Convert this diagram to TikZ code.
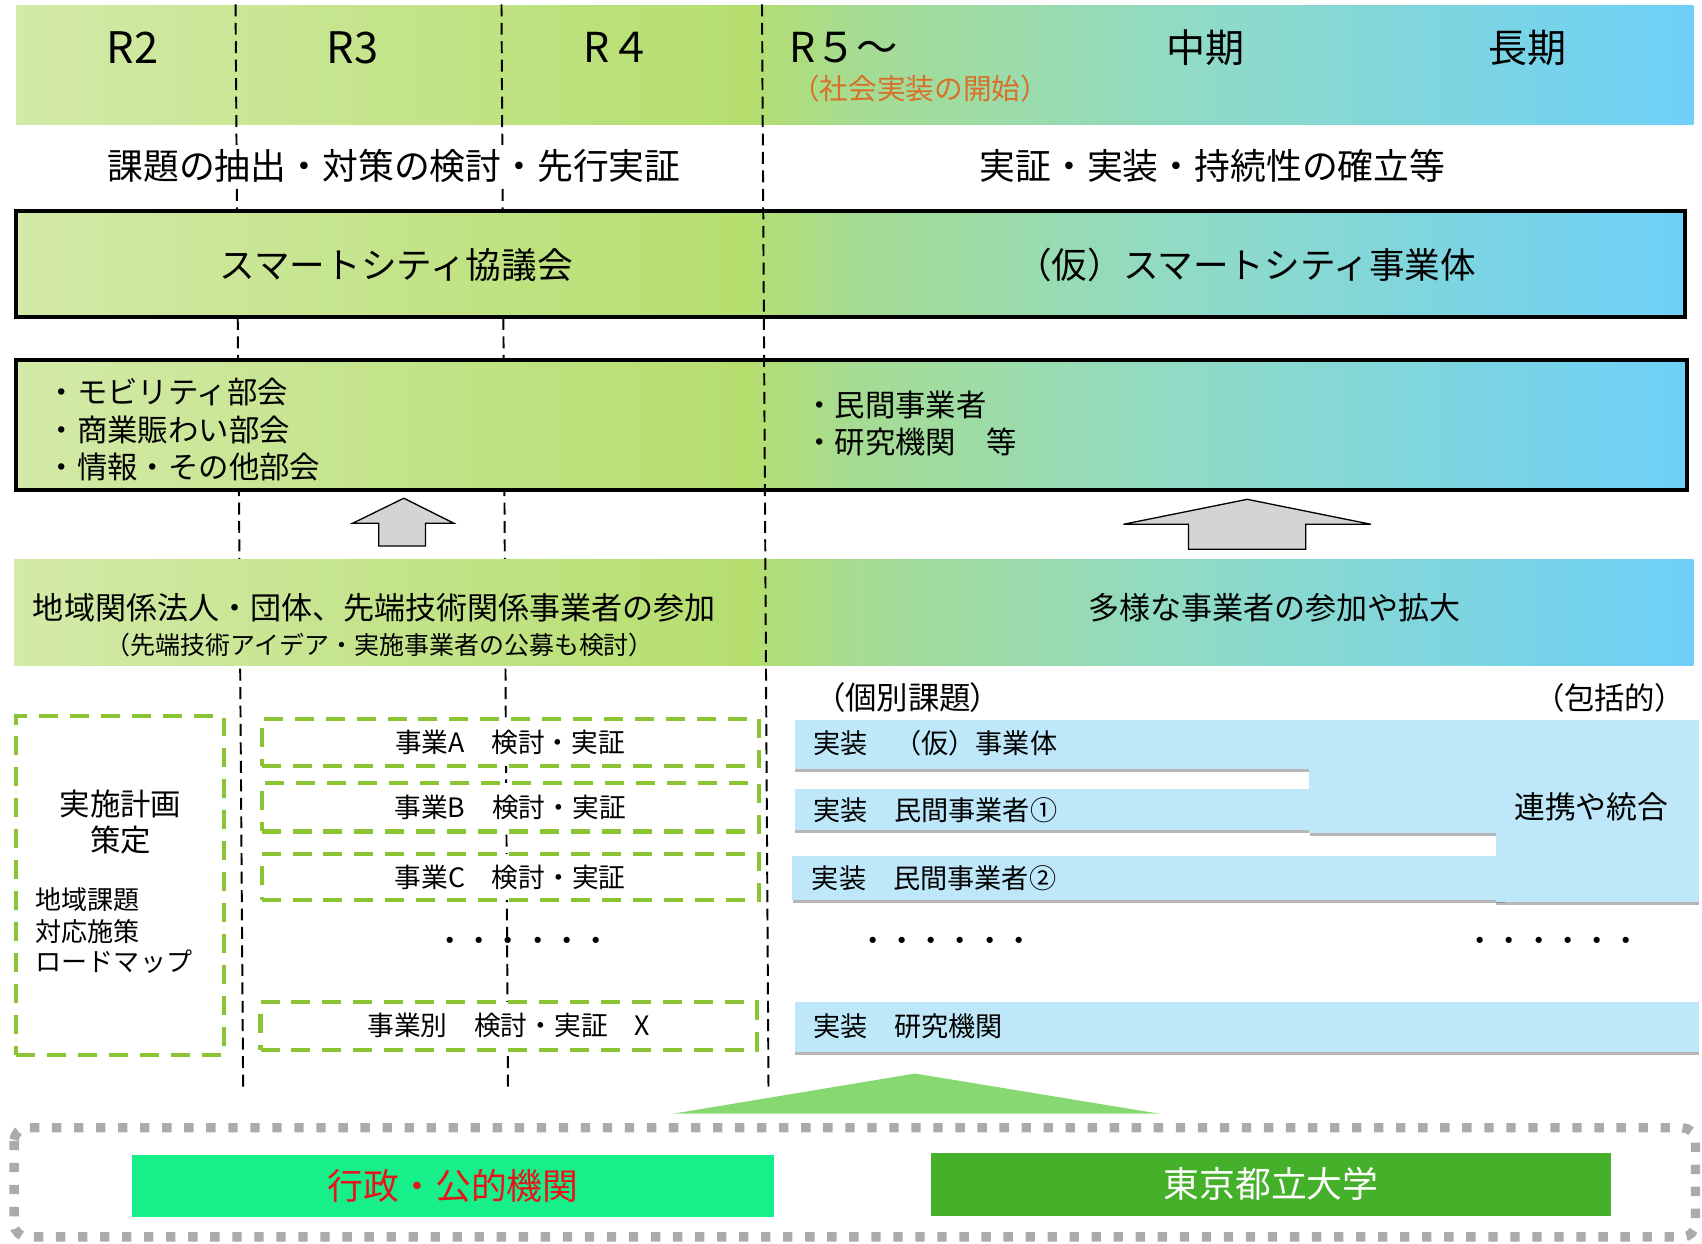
\documentclass[tikz,border=0pt]{standalone}
\usepackage{fontspec}
\setmainfont{Noto Sans CJK JP}
\newfontfamily\paltjp{Noto Sans CJK JP}[RawFeature=+palt]
\usetikzlibrary{shadows}
\definecolor{g0}{HTML}{D3EAA8}
\definecolor{g1}{HTML}{B5DE6E}
\definecolor{g2}{HTML}{A6DC92}
\definecolor{g3}{HTML}{90DBC6}
\definecolor{g4}{HTML}{6DD0F8}
\definecolor{dashgreen}{HTML}{8AC432}
\definecolor{lightblue}{HTML}{BEE8F9}
\definecolor{arrowgray}{HTML}{D4D4D4}
\definecolor{trigreen}{HTML}{88D872}
\definecolor{framegray}{HTML}{ABABAB}
\definecolor{springbox}{HTML}{17F08A}
\definecolor{univgreen}{HTML}{45B02A}
\definecolor{orangetxt}{HTML}{D8702A}
\definecolor{redtxt}{HTML}{E8141C}
\pgfdeclarehorizontalshading{bandshade}{100bp}{color(0bp)=(g0); color(25bp)=(g0); color(46.8bp)=(g1); color(50bp)=(g2); color(60bp)=(g3); color(75bp)=(g4); color(100bp)=(g4)}
\begin{document}
\begin{tikzpicture}[x=0.5pt,y=-0.5pt,
  fs/.style={font=\fontsize{#1}{#1}\selectfont},
  pfs/.style={font=\paltjp\fontsize{#1}{#1}\selectfont},
  txt/.style={inner sep=0pt, outer sep=0pt},
  yearline/.style={draw=black, line width=0.9pt, dash pattern=on 5.5pt off 3pt},
  greenbox/.style={draw=dashgreen, fill=white, line width=1.9pt, dash pattern=on 8.75pt off 5.5pt, inner sep=0pt},
  bluebox/.style={fill=lightblue, inner sep=0pt, drop shadow={shadow xshift=0.3pt, shadow yshift=-1.4pt, opacity=0.4, fill=black!70}},
  blockarrow/.style={fill=arrowgray, draw=black, line width=0.6pt, line join=miter},
  bigbox/.style={draw=black, line width=1.85pt, shading=bandshade}
]
\useasboundingbox (0,0) rectangle (1568,1146);

% top band
\shade[shading=bandshade] (15,5) rectangle (1560,115);

% year divider lines (two behind boxes)
\coordinate (l1t) at (217,4);
\coordinate (l1b) at (224,1004);
\coordinate (l2t) at (462,4);
\coordinate (l2b) at (468,1004);
\coordinate (l3t) at (702,4);
\coordinate (l3b) at (708,1004);
\draw[yearline] (l1t) -- (l1b);
\draw[yearline] (l2t) -- (l2b);

% header texts
\node[txt, fs=20] (r2) at (122,44) {R2};
\node[txt, fs=20] (r3) at (325,44) {R3};
\node[txt, fs=19] (r4) at (569,44) {R４};
\node[txt, fs=19, anchor=west] (r5) at (727,44) {R５～};
\node[txt, fs=13.2, anchor=west, text=orangetxt] (start) at (729,82) {（社会実装の開始）};
\node[txt, fs=18] (mid) at (1111,44) {中期};
\node[txt, fs=18] (long) at (1407,44) {長期};

\node[txt, fs=16.5, fill=white, inner ysep=2pt] (phase1) at (363,153) {課題の抽出・対策の検討・先行実証};
\node[txt, fs=16.5] (phase2) at (1117,153) {実証・実装・持続性の確立等};

% council box
\shadedraw[bigbox] (15,194) rectangle (1552,292);
\node[txt, fs=16.4] (council) at (365,244) {スマートシティ協議会};
\node[txt, fs=16.4] (entity) at (1148,244) {（仮）スマートシティ事業体};

% members box
\shadedraw[bigbox] (15,332) rectangle (1554,451);
\node[txt, fs=14, anchor=west] (m1) at (43,361) {・モビリティ部会};
\node[txt, fs=14, anchor=west] (m2) at (43,396) {・商業賑わい部会};
\node[txt, fs=14, anchor=west] (m3) at (43,430) {・情報・その他部会};
\node[txt, fs=14, anchor=west] (p1) at (741,373) {・民間事業者};
\node[txt, fs=14, anchor=west] (p2) at (741,407) {・研究機関　等};

% block arrows
\draw[blockarrow] (372,459) -- (418,482) -- (392,482) -- (392,503) -- (349,503) -- (349,482) -- (325,482) -- cycle;
\draw[blockarrow] (1149,460) -- (1263,483) -- (1203,483) -- (1203,506) -- (1095,506) -- (1095,483) -- (1035,483) -- cycle;

% participation band
\shade[shading=bandshade] (13,515) rectangle (1560,613);
\node[txt, fs=14.3] (part1) at (345,560) {地域関係法人・団体、先端技術関係事業者の参加};
\node[txt, fs=11.5] (part1b) at (350,594) {（先端技術アイデア・実施事業者の公募も検討）};
\node[txt, fs=14.3] (part2) at (1174,560) {多様な事業者の参加や拡大};

\node[txt, pfs=14.5, anchor=west] (indiv) at (764,643) {（個別課題）};
\node[txt, pfs=14, anchor=east] (compr) at (1539,643) {（包括的）};

% green dashed boxes
\node[greenbox, minimum width=95.5pt, minimum height=156pt] (plan) at (110.5,816) {};
\node[txt, fs=14] (plan1) at (111,741) {実施計画};
\node[txt, fs=14] (plan2) at (111,774) {策定};
\node[txt, fs=12, anchor=west] (plan3) at (33,829) {地域課題};
\node[txt, fs=12, anchor=west] (plan4) at (33,858) {対応施策};
\node[txt, fs=12, anchor=west] (plan5) at (33,886) {ロードマップ};

\node[greenbox, minimum width=229pt, minimum height=22pt, fs=12.3] (ba) at (470,684) {事業A　検討・実証};
\node[greenbox, minimum width=229pt, minimum height=22.5pt, fs=12.3] (bb) at (470,743.5) {事業B　検討・実証};
\node[greenbox, minimum width=229pt, minimum height=21pt, fs=12.3] (bc) at (470,808) {事業C　検討・実証};
\node[greenbox, minimum width=228.5pt, minimum height=22pt, fs=12.3] (bx) at (468.5,945) {事業別　検討・実証　X};

\node[txt, fs=13.5] (dots1) at (482,870) {・・・・・・};
\node[txt, fs=13.5] (dots2) at (871.5,870) {・・・・・・};
\node[txt, fs=13.5] (dots3) at (1431,870) {・・・・・・};

% blue implementation boxes
\node[bluebox, minimum width=237pt, minimum height=22.5pt] (row1) at (969,685.5) {};
\node[bluebox, minimum width=237pt, minimum height=19pt] (row2) at (969,746) {};
\node[bluebox, minimum width=86pt, minimum height=52pt] (conn) at (1292,715) {};
\node[bluebox, minimum width=328pt, minimum height=20pt] (row3) at (1058,809) {};
\node[bluebox, minimum width=93.5pt, minimum height=84pt] (merge) at (1471.5,747) {};
\node[bluebox, minimum width=416.5pt, minimum height=23pt] (rowx) at (1148.5,946) {};

\node[txt, fs=12.5, anchor=west] (t1) at (749,685) {実装　（仮）事業体};
\node[txt, fs=12.5, anchor=west] (t2) at (749,746) {実装　民間事業者①};
\node[txt, fs=12.5, anchor=west] (t3) at (748,809) {実装　民間事業者②};
\node[txt, fs=12.5, anchor=west] (tx) at (749,945) {実装　研究機関};
\node[txt, fs=14.2] (tm) at (1466,743) {連携や統合};

% R5 divider on top
\draw[yearline] (l3t) -- (l3b);

% triangle
\fill[trigreen] (843,989) -- (1068,1026) -- (620,1026) -- cycle;

% bottom frame
\draw[framegray, line width=4.3pt, dash pattern=on 4.3pt off 5.85pt, rounded corners=6pt] (13,1039) rectangle (1562,1139.5);
\node[fill=springbox, minimum width=295.5pt, minimum height=28.5pt, inner sep=0pt, text=redtxt, fs=16.5] (gov) at (417.5,1092.5) {行政・公的機関};
\node[fill=univgreen, minimum width=313pt, minimum height=29pt, inner sep=0pt, text=white, fs=16.5] (tmu) at (1171,1091) {東京都立大学};
\end{tikzpicture}
\end{document}
